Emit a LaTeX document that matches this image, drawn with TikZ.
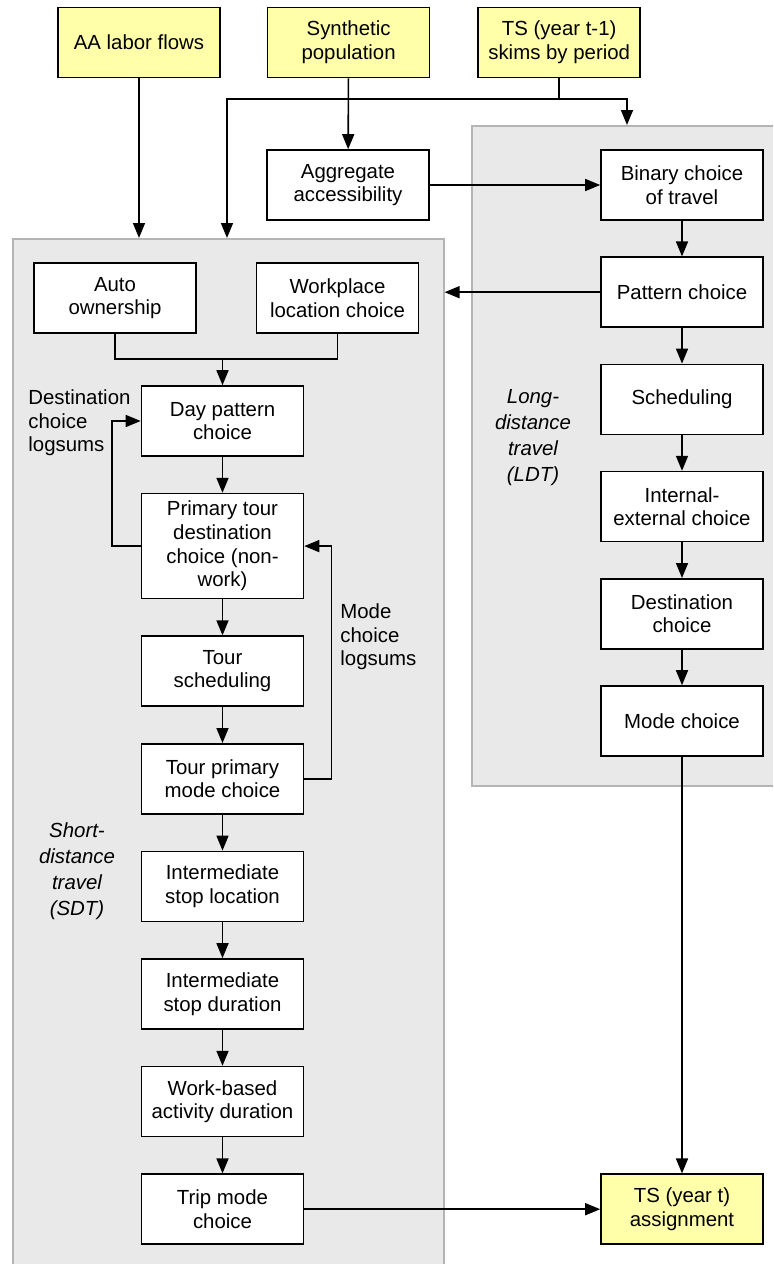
\documentclass[tikz,border=0pt]{standalone}
\usepackage{fontspec}
\setmainfont{Liberation Sans}
\usepackage{tikz}
\usetikzlibrary{positioning,arrows.meta}
\definecolor{inputYellow}{RGB}{255,255,170}
\definecolor{panelGray}{RGB}{233,233,233}
\definecolor{panelEdge}{RGB}{180,180,180}

\begin{document}
\begin{tikzpicture}[
  x=0.5pt,y=-0.5pt,
  font=\fontsize{10.2}{11.8}\selectfont,
  node distance=18pt,
  box/.style={draw,line width=0.8pt,fill=white,align=center,inner sep=2pt,minimum width=81pt,minimum height=35pt},
  inbox/.style={box,fill=inputYellow},
  panel/.style={draw=panelEdge,fill=panelGray,line width=0.8pt,inner sep=0pt,anchor=north west},
  note/.style={align=left,inner sep=0pt,anchor=west},
  tag/.style={align=center,inner sep=0pt,font=\fontsize{10.2}{13}\selectfont\itshape},
  arr/.style={-{Triangle[length=7.5pt,width=6pt]},line width=0.8pt},
  ln/.style={line width=0.8pt}
]
\useasboundingbox (0,0) rectangle (773,1264);
\clip (0,0) rectangle (773,1264);

% the two model panels
\node[panel,minimum width=215.5pt,minimum height=530pt] (sdt) at (12,238) {};
\node[panel,minimum width=165pt,minimum height=330pt] (ldt) at (471,125) {};

% inputs
\node[inbox] (aa) at (139,42.5) {AA labor flows};
\node[inbox,right=23pt of aa] (synpop) {Synthetic\\population};
\node[inbox,right=23.5pt of synpop] (tsprev) {TS (year t-1)\\skims by period};
\node[box] (access) at (348,185) {Aggregate\\accessibility};

% long-distance travel
\node[box] (binary) at (682,185) {Binary choice\\of travel};
\node[box,below=17.8pt of binary] (pattern) {Pattern choice};
\node[box,below=17.8pt of pattern] (sched) {Scheduling};
\node[box,below=17.8pt of sched] (intext) {Internal-\\external choice};
\node[box,below=17.8pt of intext] (ldtdest) {Destination\\choice};
\node[box,below=17.8pt of ldtdest] (ldtmode) {Mode choice};
\node[tag] (ldtlabel) at (533,438) {Long-\\distance\\travel\\(LDT)};

% short-distance travel
\node[box] (auto) at (115,298) {Auto\\ownership};
\node[box] (work) at (337.5,298) {Workplace\\location choice};
\node[box] (day) at (222.5,421) {Day pattern\\choice};
\node[box,below=of day,minimum height=52.5pt] (primary) {Primary tour\\destination\\choice (non-\\work)};
\node[box,below=of primary] (toursched) {Tour\\scheduling};
\node[box,below=of toursched] (tourmode) {Tour primary\\mode choice};
\node[box,below=of tourmode] (stoploc) {Intermediate\\stop location};
\node[box,below=of stoploc] (stopdur) {Intermediate\\stop duration};
\node[box,below=of stopdur] (workact) {Work-based\\activity duration};
\node[box,below=of workact] (trip) {Trip mode\\choice};
\node[tag] (sdtlabel) at (77,871) {Short-\\distance\\travel\\(SDT)};
\node[note] (dclabel) at (28,423) {Destination\\choice\\logsums};
\node[note] (mclabel) at (340,637) {Mode\\choice\\logsums};

\node[inbox] (tsnow) at (ldtmode |- trip) {TS (year t)\\assignment};

% connectors
\coordinate (busL) at (227,99);
\coordinate (busR) at (627,99);
\draw[arr] (aa) -- (aa |- sdt.north);
\draw[arr] (synpop) -- (access);
\draw[arr] (tsprev.south) -- (tsprev.south |- busL) -| (busL |- sdt.north);
\draw[arr] (tsprev.south |- busL) -| (busR |- ldt.north);
\draw[arr] (access) -- (binary);
\draw[arr] (pattern.west) -- (pattern.west -| sdt.east);

\draw[arr] (binary) -- (pattern);
\draw[arr] (pattern) -- (sched);
\draw[arr] (sched) -- (intext);
\draw[arr] (intext) -- (ldtdest);
\draw[arr] (ldtdest) -- (ldtmode);
\draw[arr] (ldtmode) -- (tsnow);

\path (auto.south) ++(0,25) coordinate (join);
\draw[ln] (auto.south) -- (join) -| (work.south);
\draw[arr] (join -| day.north) -- (day.north);
\draw[arr] (day) -- (primary);
\draw[arr] (primary) -- (toursched);
\draw[arr] (toursched) -- (tourmode);
\draw[arr] (tourmode) -- (stoploc);
\draw[arr] (stoploc) -- (stopdur);
\draw[arr] (stopdur) -- (workact);
\draw[arr] (workact) -- (trip);
\draw[arr] (primary.west) -- ++(-29,0) |- (day.west);
\draw[arr] (tourmode.east) -- ++(27,0) |- (primary.east);
\draw[arr] (trip) -- (tsnow);
\end{tikzpicture}
\end{document}
